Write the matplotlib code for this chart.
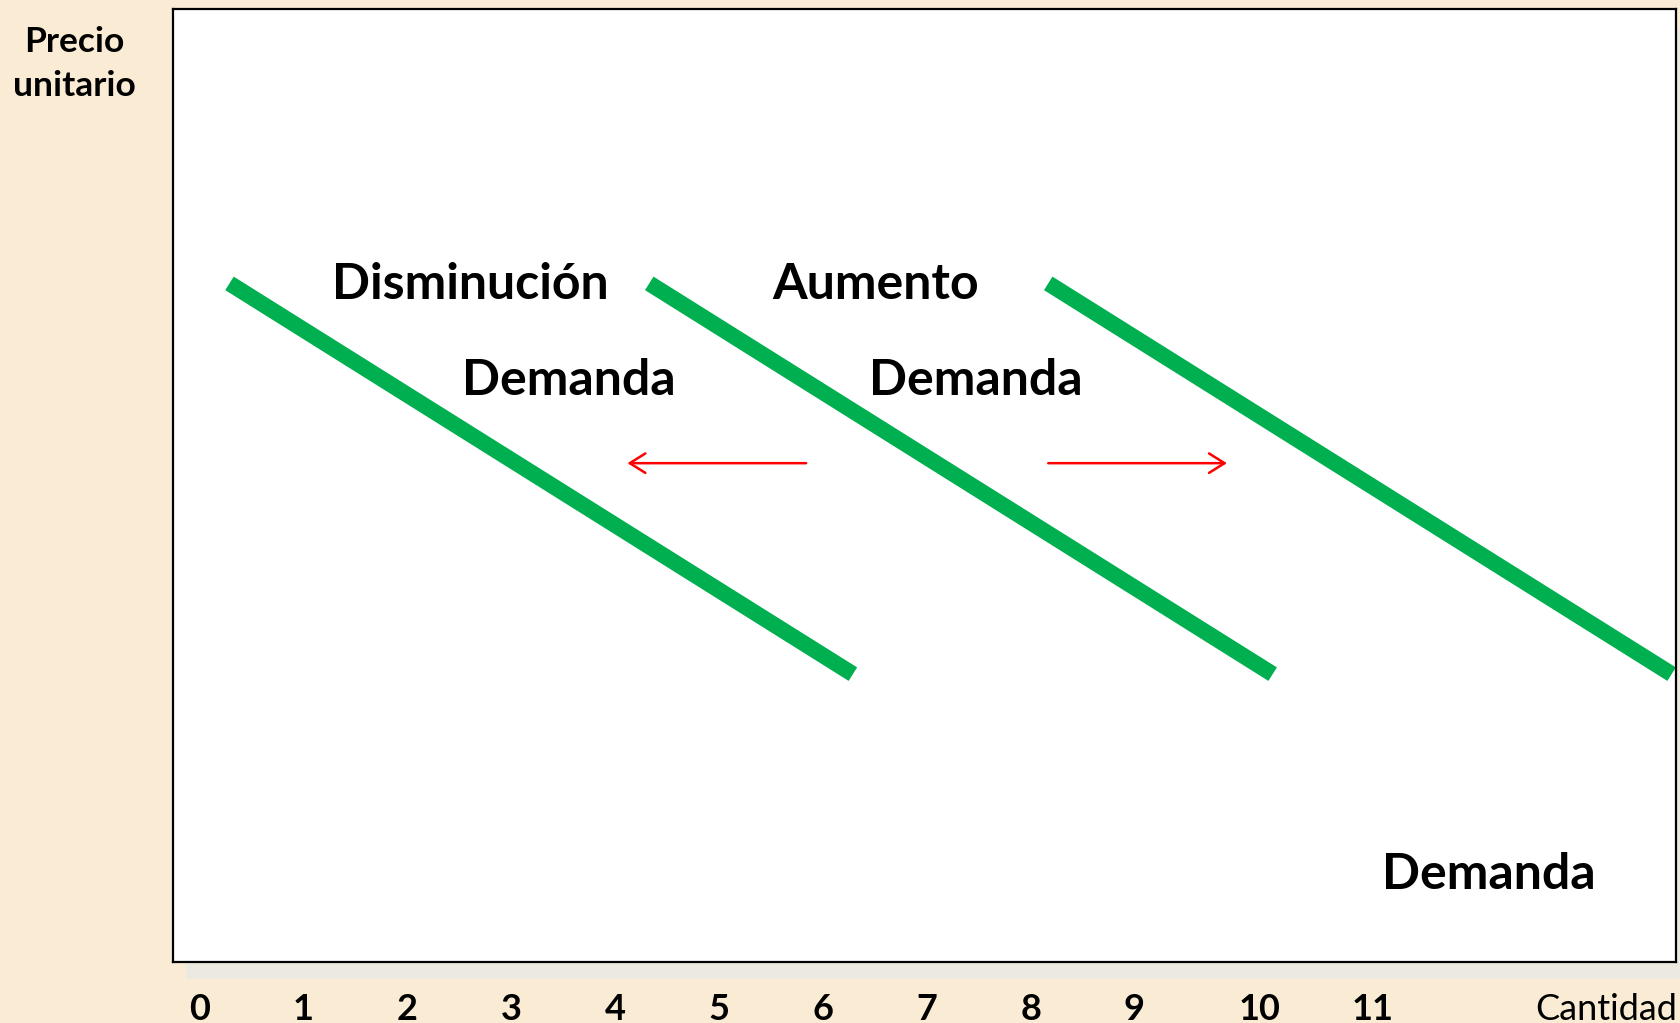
import matplotlib
matplotlib.use("Agg")
import matplotlib.pyplot as plt
from matplotlib.patches import Rectangle

# curvas de demanda (inicio y fin de cada recta)
curva_x = [[0.29, 6.29], [4.33, 10.33], [8.17, 14.17]]
curva_y = [[6.53, 2.77], [6.53, 2.77], [6.53, 2.77]]

# flechas de desplazamiento (cola -> punta)
flecha_x = [[5.84, 4.12], [8.17, 9.89]]
flecha_y = [[4.80, 4.80], [4.80, 4.80]]

# rotulos
rotulos = ["Disminución", "Aumento", "Demanda", "Demanda", "Demanda"]
rotulo_x = [2.61, 6.51, 3.56, 7.47, 12.41]
rotulo_y = [6.38, 6.38, 5.46, 5.46, 0.70]

# eje x
tick_pos = [0, 1, 2, 3, 4, 5, 6, 7, 8, 9, 10.2, 11.29, 13.54]
tick_labels = ["0", "1", "2", "3", "4", "5", "6", "7", "8", "9", "10", "11", "Cantidad"]

FONDO = "#FAEBD4"
VERDE = "#00B050"

plt.rcParams['font.family'] = ['Lato', 'DejaVu Sans']

fig = plt.figure(figsize=(16.81, 10.23), dpi=100, facecolor=FONDO)
ax = fig.add_axes([0.1029, 0.0596, 0.894, 0.9316])

# sombra del recuadro (detras del grafico)
sombra = Rectangle((0.1107, 0.043), 0.894, 0.9316, transform=fig.transFigure,
                   facecolor="#ECEAE0", edgecolor="none", zorder=-5)
fig.patches.append(sombra)

ax.set_facecolor("white")
ax.set_xlim(-0.254, 14.21)
ax.set_ylim(0, 9.17)
for s in ax.spines.values():
    s.set_linewidth(1.6)
    s.set_color("black")

for xs, ys in zip(curva_x, curva_y):
    ax.plot(xs, ys, color=VERDE, lw=11.5, solid_capstyle="butt")

for xs, ys in zip(flecha_x, flecha_y):
    ax.annotate("", xy=(xs[1], ys[1]), xytext=(xs[0], ys[0]),
                arrowprops=dict(arrowstyle="->,head_length=0.8,head_width=0.5",
                                color="red", lw=1.8, mutation_scale=14,
                                shrinkA=0, shrinkB=0))

for t, x, y in zip(rotulos, rotulo_x, rotulo_y):
    ax.text(x, y, t, ha="center", va="baseline", fontsize=36, fontweight="bold")

ax.set_yticks([])
ax.set_xticks(tick_pos, tick_labels)
ax.tick_params(axis="x", length=0, pad=22, labelsize=26)
for lab in ax.get_xticklabels():
    lab.set_fontweight("bold")
ax.get_xticklabels()[-1].set_fontweight("normal")

ax.text(-1.207, 8.64, "Precio\nunitario", ha="center", va="center",
        multialignment="center", fontsize=25.5, fontweight="bold",
        linespacing=1.45, clip_on=False)

fig.savefig("out.png", dpi=100, facecolor=FONDO)
